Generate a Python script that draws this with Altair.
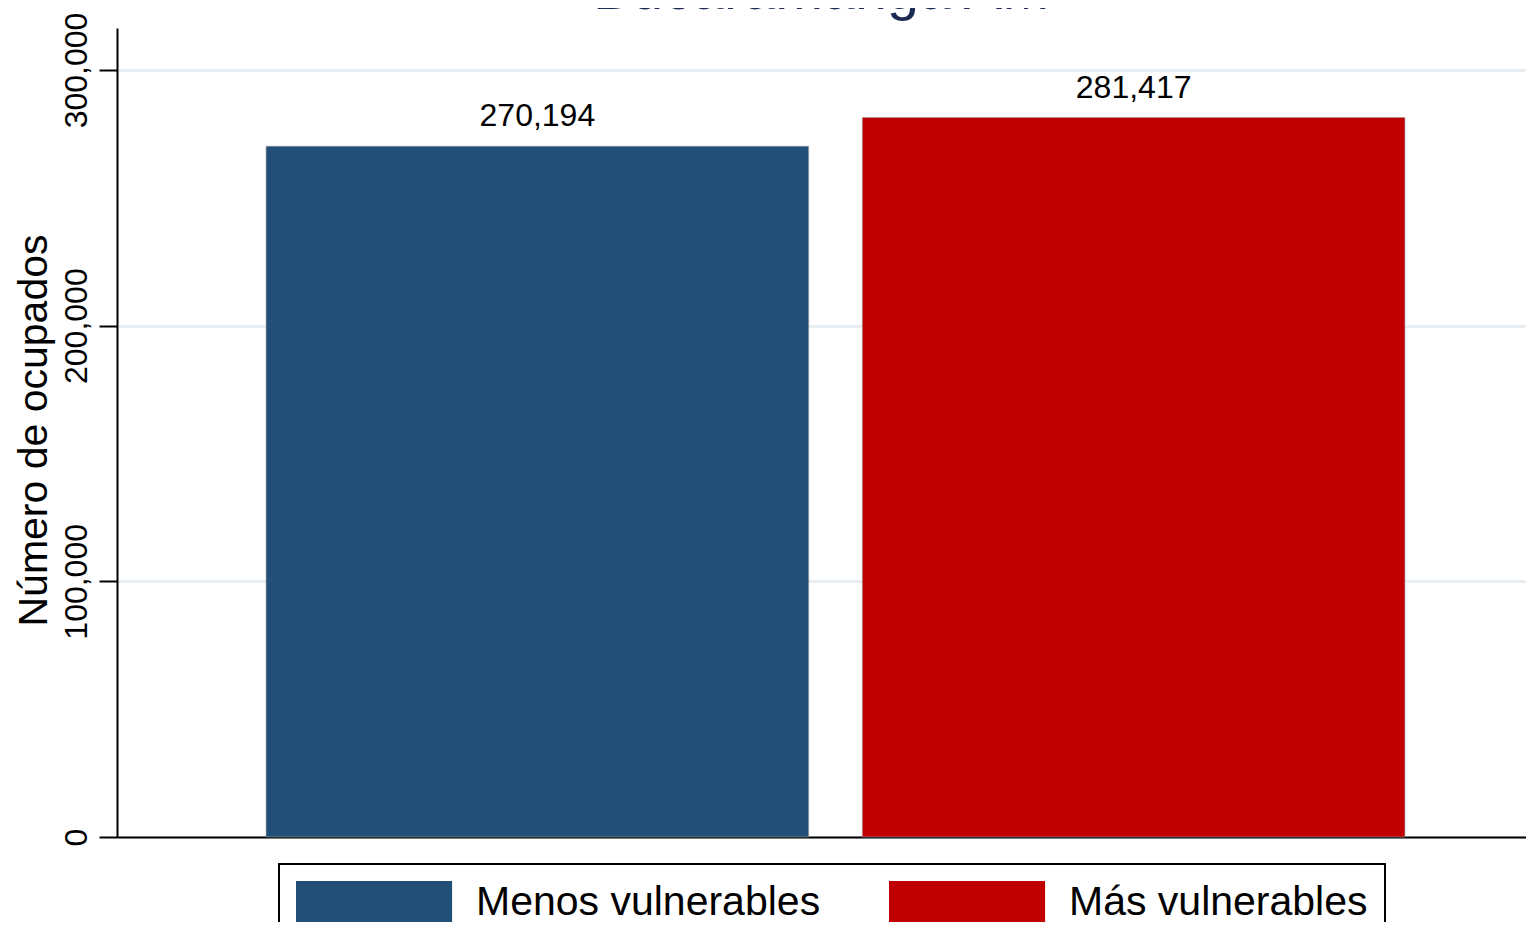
import altair as alt
import pandas as pd

categories = ["Menos vulnerables", "Más vulnerables"]
values = [270194, 281417]
colors = ["#214f78", "#c00000"]
y_ticks = [0, 100000, 200000, 300000]
title_text = "Bucaramanga AM"
y_title = "Número de ocupados"

df = pd.DataFrame({"grupo": categories, "ocupados": values})

FONT = "Liberation Sans"

x_enc = alt.X(
    "grupo:N",
    sort=categories,
    scale=alt.Scale(range=[0, 1437], paddingInner=0.09, paddingOuter=0.25),
    axis=alt.Axis(labels=False, ticks=False, title=None, domainColor="black",
                  domainWidth=2, grid=False),
)
y_enc = alt.Y(
    "ocupados:Q",
    scale=alt.Scale(domain=[0, 316430], nice=False, zero=True),
    axis=alt.Axis(
        values=y_ticks, format=",.0f", title=y_title,
        labelAngle=270, labelAlign="center", labelBaseline="alphabetic",
        labelFontSize=32, labelFont=FONT, labelColor="black",
        labelPadding=13, labelOverlap=False, labelFlush=False,
        tickSize=18, tickWidth=2, tickColor="black",
        domainColor="black", domainWidth=2,
        grid=True, gridColor="#e8eef1", gridWidth=3,
        titleFontSize=41, titleFont=FONT, titleFontWeight="normal",
        titleColor="black", titleAngle=270, titleAlign="center",
        titleBaseline="alphabetic", titleX=-71, titleY=402,
    ),
)

bars = alt.Chart(df).mark_bar(stroke="#9a9a9a", strokeWidth=0.6).encode(
    x=x_enc,
    y=y_enc,
    color=alt.Color(
        "grupo:N",
        sort=categories,
        scale=alt.Scale(domain=categories, range=colors),
        legend=alt.Legend(
            title=None, orient="none", legendX=162, legendY=836,
            direction="horizontal", columns=2,
            symbolType="M-1,-1L6.26,-1L6.26,1L-1,1Z",
            symbolSize=1849, symbolStrokeWidth=0, symbolOpacity=1,
            labelFontSize=41, labelFont=FONT, labelColor="black",
            labelLimit=0, labelOffset=137, columnPadding=68, padding=17,
            strokeColor="black", fillColor="white",
        ),
    ),
)

labels = alt.Chart(df).mark_text(
    baseline="alphabetic", align="center", dy=-20, fontSize=32, font=FONT,
    color="black",
).encode(
    x=alt.X("grupo:N", sort=categories),
    y=alt.Y("ocupados:Q"),
    text=alt.Text("ocupados:Q", format=",.0f"),
)

chart = (
    alt.layer(bars, labels)
    .properties(
        width=1409,
        height=809,
        title=alt.TitleParams(
            title_text, fontSize=57.5, font=FONT, fontWeight="normal",
            color="#1d2b53", anchor="middle", baseline="alphabetic",
            frame="group", offset=-54,
        ),
        autosize=alt.AutoSizeParams(type="none"),
        padding={"left": 109, "top": 20, "right": 0, "bottom": 85},
    )
    .configure_view(stroke=None)
    .configure_legend(strokeWidth=2)
)

chart.save("out.html", embed_options={"renderer": "svg", "actions": False})
